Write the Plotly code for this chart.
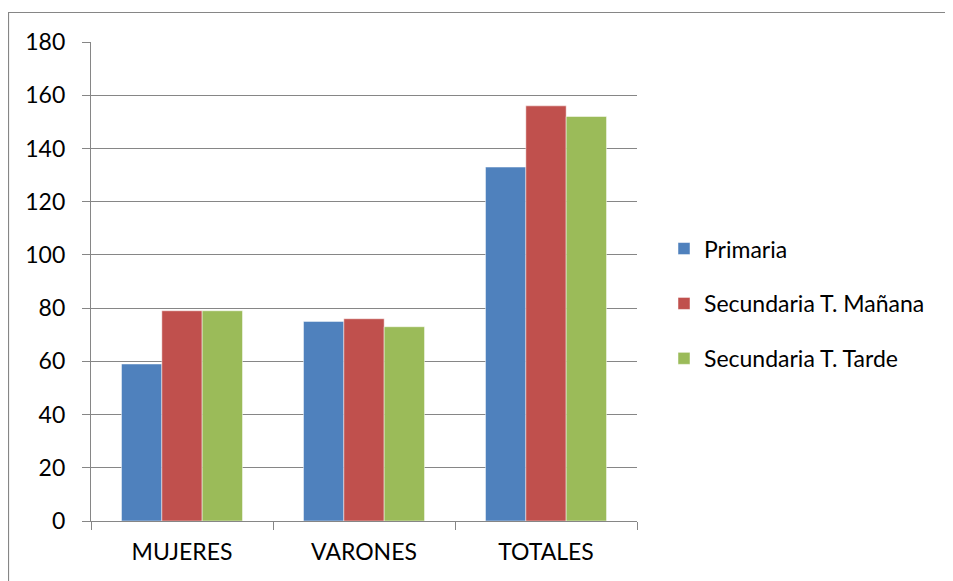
import plotly.graph_objects as go

categories = ["MUJERES", "VARONES", "TOTALES"]
primaria = [59, 75, 133]
sec_manana = [79, 76, 156]
sec_tarde = [79, 73, 152]
series_names = ["Primaria", "Secundaria T. Mañana", "Secundaria T. Tarde"]
colors = ["#4F81BD", "#C0504D", "#9BBB59"]

FONT = "Lato"
FS = 23
W, H = 953, 581
OFF = 8  # page body margin
# target plot area in page pixels: x 91..637, y 42..521
L, T = 91 - OFF, 42 - OFF
R = W - (637 - OFF)
B = H - (521 - OFF)
pw, ph = W - L - R, H - T - B

def px(x):
    return (x - 91) / pw

def py(y):
    return (521 - y) / ph

fig = go.Figure()
for i, (name, vals) in enumerate(zip(series_names, [primaria, sec_manana, sec_tarde])):
    fig.add_trace(go.Bar(
        x=categories, y=vals, name=name, legendgroup=f"g{i}",
        marker=dict(color=colors[i], line=dict(color="rgba(255,255,255,0.6)", width=0.8)),
    ))

fig.update_layout(
    width=W, height=H,
    margin=dict(l=L, r=R, t=T, b=B),
    paper_bgcolor="white", plot_bgcolor="white",
    barmode="group", bargap=0.335, bargroupgap=0,
    font=dict(family=FONT, size=FS, color="black"),
    showlegend=True,
    legend=dict(
        x=px(664), y=py(252) + 0.052, xanchor="left", yanchor="top",
        traceorder="grouped", tracegroupgap=22,
        font=dict(family=FONT, size=FS, color="black"),
        itemwidth=30, bgcolor="rgba(0,0,0,0)",
    ),
    xaxis=dict(
        showline=True, linecolor="#868686", linewidth=1.2,
        ticks="outside", tickson="boundaries", ticklen=8, tickcolor="#868686",
        showgrid=False, tickfont=dict(family=FONT, size=FS), ticklabelstandoff=10,
    ),
    yaxis=dict(
        range=[0, 180], dtick=20, showline=True, linecolor="#868686", linewidth=1.2,
        ticks="outside", ticklen=8, tickcolor="#868686",
        showgrid=True, gridcolor="#868686", gridwidth=1.2,
        zeroline=False, tickfont=dict(family=FONT, size=FS), ticklabelstandoff=12,
    ),
)

# outer chart frame (cropped at right and bottom)
fig.add_shape(
    type="rect", xref="paper", yref="paper",
    x0=px(8.5), x1=px(W + 20),
    y0=py(H + 20), y1=py(12.5),
    line=dict(color="#868686", width=1.2), fillcolor="rgba(0,0,0,0)", layer="below",
)

fig.write_html("out.html")
